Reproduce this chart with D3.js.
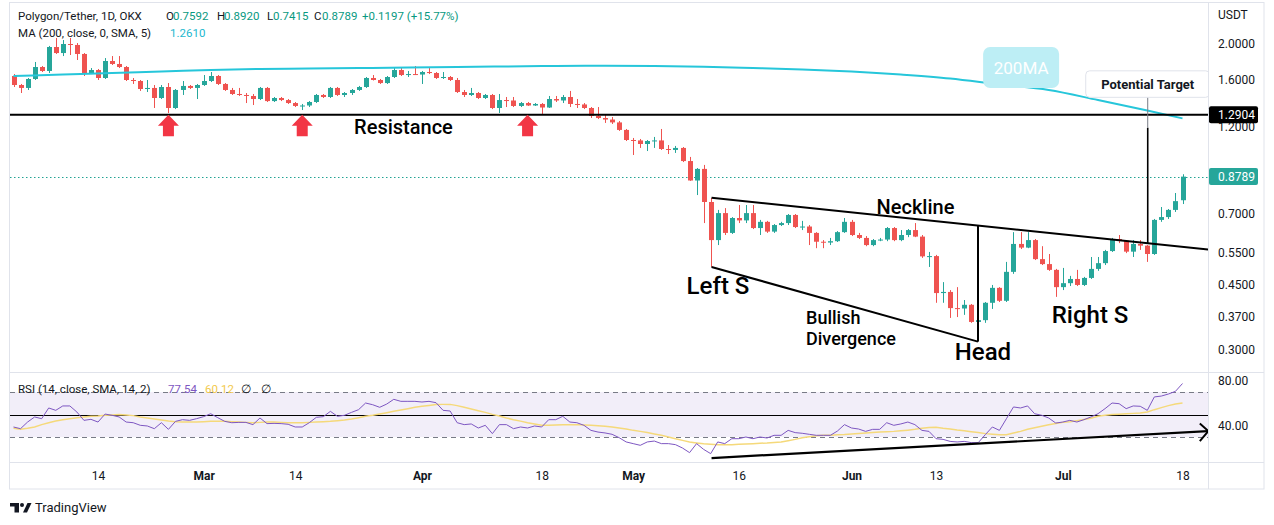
<!DOCTYPE html>
<html><head><meta charset="utf-8">
<script src="https://cdn.jsdelivr.net/npm/d3@7"></script>
<style>
body{margin:0;background:#fff;}
svg{display:block;font-family:Roboto,"Noto Sans",sans-serif;}
</style>
</head><body>
<svg id="c" width="1274" height="525"></svg>
<script>
// ---------------- DATA ----------------
const firstDay = "2022-02-02", lastDay = "2022-07-18";
const opens = [1.640,1.551,1.523,1.610,1.734,1.692,1.963,1.891,2.000,1.988,
1.880,1.671,1.702,1.620,1.800,1.767,1.734,1.600,1.590,1.513,
1.523,1.431,1.532,1.345,1.504,1.542,1.523,1.551,1.590,1.640,
1.561,1.504,1.467,1.458,1.449,1.422,1.523,1.404,1.431,1.413,
1.387,1.362,1.366,1.396,1.458,1.440,1.523,1.458,1.476,1.504,
1.532,1.620,1.600,1.570,1.630,1.702,1.650,1.660,1.655,1.681,
1.671,1.620,1.630,1.600,1.485,1.458,1.476,1.431,1.458,1.345,
1.413,1.409,1.362,1.387,1.366,1.379,1.349,1.422,1.409,1.440,
1.379,1.375,1.345,1.280,1.264,1.252,1.230,1.174,1.103,1.100,
1.076,1.096,1.100,1.043,1.037,1.050,0.968,0.858,0.922,0.751,
0.593,0.701,0.620,0.680,0.670,0.701,0.639,0.664,0.625,0.651,
0.659,0.693,0.643,0.645,0.620,0.587,0.584,0.589,0.623,0.664,
0.612,0.601,0.575,0.593,0.595,0.639,0.593,0.612,0.631,0.606,
0.536,0.537,0.427,0.430,0.389,0.388,0.397,0.357,0.361,0.402,
0.441,0.407,0.487,0.579,0.566,0.593,0.527,0.511,0.493,0.443,
0.454,0.466,0.449,0.469,0.496,0.514,0.554,0.597,0.591,0.552,
0.579,0.573,0.544,0.672,0.684,0.715,0.7592];
const highs = [1.660,1.561,1.620,1.789,1.745,1.976,2.076,2.050,2.076,2.012,
1.891,1.723,1.713,1.833,1.856,1.856,1.745,1.620,1.600,1.600,
1.551,1.551,1.570,1.513,1.590,1.551,1.561,1.650,1.681,1.650,
1.570,1.523,1.523,1.476,1.467,1.532,1.532,1.440,1.440,1.422,
1.396,1.379,1.404,1.467,1.467,1.532,1.532,1.485,1.513,1.542,
1.630,1.650,1.610,1.640,1.723,1.734,1.692,1.745,1.692,1.723,
1.681,1.681,1.640,1.620,1.504,1.523,1.485,1.467,1.467,1.467,
1.440,1.440,1.396,1.396,1.387,1.387,1.449,1.449,1.458,1.495,
1.422,1.387,1.353,1.353,1.288,1.272,1.241,1.181,1.117,1.110,
1.103,1.124,1.181,1.069,1.063,1.056,0.993,0.927,0.945,0.770,
0.715,0.723,0.684,0.737,0.737,0.737,0.672,0.668,0.655,0.664,
0.697,0.697,0.668,0.651,0.623,0.593,0.601,0.627,0.680,0.672,
0.620,0.608,0.597,0.601,0.643,0.643,0.631,0.635,0.659,0.612,
0.551,0.541,0.457,0.435,0.443,0.409,0.399,0.366,0.404,0.449,
0.443,0.518,0.623,0.623,0.623,0.597,0.571,0.544,0.496,0.499,
0.475,0.493,0.472,0.534,0.534,0.558,0.601,0.612,0.593,0.593,
0.593,0.575,0.676,0.728,0.719,0.794,0.8920];
const lows = [1.532,1.476,1.504,1.600,1.681,1.671,1.880,1.856,1.868,1.811,
1.640,1.660,1.600,1.610,1.756,1.723,1.590,1.561,1.495,1.485,
1.345,1.422,1.304,1.336,1.458,1.513,1.422,1.542,1.580,1.551,
1.495,1.458,1.449,1.387,1.370,1.413,1.396,1.396,1.404,1.379,
1.353,1.328,1.353,1.387,1.431,1.431,1.449,1.440,1.458,1.495,
1.523,1.595,1.561,1.561,1.620,1.640,1.630,1.650,1.561,1.660,
1.610,1.610,1.590,1.476,1.440,1.449,1.422,1.422,1.336,1.304,
1.353,1.353,1.353,1.362,1.362,1.296,1.345,1.396,1.387,1.353,
1.345,1.336,1.264,1.256,1.226,1.218,1.167,1.096,1.005,1.050,
1.030,1.050,1.037,1.011,1.018,0.962,0.856,0.784,0.659,0.502,
0.575,0.612,0.616,0.659,0.659,0.635,0.612,0.620,0.620,0.647,
0.651,0.639,0.631,0.575,0.564,0.564,0.575,0.586,0.620,0.608,
0.597,0.571,0.571,0.589,0.589,0.589,0.589,0.604,0.604,0.531,
0.502,0.402,0.402,0.366,0.368,0.373,0.355,0.327,0.355,0.387,
0.404,0.404,0.481,0.561,0.564,0.524,0.508,0.490,0.417,0.435,
0.446,0.446,0.446,0.466,0.490,0.508,0.551,0.582,0.547,0.534,
0.558,0.518,0.541,0.664,0.676,0.706,0.7415];
const closes = [1.551,1.523,1.610,1.734,1.692,1.963,1.891,2.000,1.988,1.880,
1.671,1.702,1.620,1.800,1.767,1.734,1.600,1.590,1.513,1.523,
1.431,1.532,1.345,1.504,1.542,1.523,1.551,1.590,1.640,1.561,
1.504,1.467,1.458,1.449,1.422,1.523,1.404,1.431,1.413,1.387,
1.362,1.366,1.396,1.458,1.440,1.523,1.458,1.476,1.504,1.532,
1.620,1.600,1.570,1.630,1.702,1.650,1.660,1.655,1.681,1.671,
1.620,1.630,1.600,1.485,1.458,1.476,1.431,1.458,1.345,1.413,
1.409,1.362,1.387,1.366,1.379,1.349,1.422,1.409,1.440,1.379,
1.375,1.345,1.280,1.264,1.252,1.230,1.174,1.103,1.100,1.076,
1.096,1.100,1.043,1.037,1.050,0.968,0.858,0.922,0.751,0.593,
0.701,0.620,0.680,0.670,0.701,0.639,0.664,0.625,0.651,0.659,
0.693,0.643,0.645,0.620,0.587,0.584,0.589,0.623,0.664,0.612,
0.601,0.575,0.593,0.595,0.639,0.593,0.612,0.631,0.606,0.536,
0.537,0.427,0.430,0.389,0.388,0.397,0.357,0.361,0.402,0.441,
0.407,0.487,0.579,0.566,0.593,0.527,0.511,0.493,0.443,0.454,
0.466,0.449,0.469,0.496,0.514,0.554,0.597,0.591,0.552,0.579,
0.573,0.544,0.672,0.684,0.715,0.755,0.8789];
const rsiValues = [38.9,37.4,43.3,47.8,46.3,55.8,53.7,57.6,57.6,52.2,
44.8,45.7,43.3,50.4,49.3,47.8,43.3,42.7,40.4,39.8,
37.4,42.7,36.8,43.9,45.4,44.8,46.3,48.1,50.7,47.2,
43.9,42.7,43.0,43.0,41.0,46.9,41.9,42.1,41.9,41.3,
38.9,38.9,42.7,47.5,48.1,52.8,48.4,49.3,51.9,54.3,
60.2,58.7,56.4,59.3,63.5,61.7,61.7,61.7,61.1,61.7,
60.5,53.7,53.1,42.7,41.0,41.6,38.0,40.4,33.0,41.0,
41.0,37.4,38.9,38.0,39.8,38.9,45.4,45.4,48.4,43.3,
42.7,40.4,35.9,34.4,33.6,32.4,29.4,25.6,24.1,22.6,
25.6,26.4,24.1,24.1,23.2,20.2,16.1,24.1,19.0,15.2,
25.6,24.1,28.5,28.5,30.0,28.5,30.0,29.1,31.5,31.5,
35.9,33.9,33.3,32.4,31.5,31.5,31.5,35.3,41.0,38.0,
37.1,35.0,36.8,36.8,42.7,40.4,41.6,43.3,41.0,35.9,
35.0,28.5,27.9,26.1,25.6,26.1,25.0,25.0,32.1,38.9,
35.9,46.3,56.7,55.8,57.6,50.7,49.3,46.9,42.4,43.3,
44.8,43.3,45.4,47.8,50.7,55.2,60.2,59.6,55.2,57.6,
57.3,53.7,65.6,66.4,68.2,70.6,77.54];
const rsiMaValues = [37.7,36.8,37.7,38.9,41.0,42.7,44.2,45.4,46.3,47.2,
47.8,48.4,48.7,49.3,49.6,49.9,49.6,49.0,47.8,46.9,
46.0,45.1,44.2,43.6,43.3,43.3,43.3,43.6,43.9,43.9,
43.9,43.6,43.3,43.0,42.7,43.0,43.3,43.3,43.0,42.7,
42.7,42.7,43.0,43.3,43.6,43.9,44.5,45.1,46.0,47.2,
48.4,49.3,50.4,51.6,52.8,54.0,55.2,56.4,57.3,58.1,
58.9,59.0,59.0,57.9,56.4,54.9,53.4,51.9,50.1,48.7,
46.9,45.4,44.1,42.7,41.6,40.4,40.4,40.6,40.8,41.0,
41.0,40.7,40.4,40.1,39.5,38.9,38.0,37.1,35.9,35.0,
33.9,32.7,31.5,30.0,28.5,27.0,25.6,24.7,23.9,23.5,
23.2,23.2,23.2,23.5,23.8,24.1,24.4,24.7,25.2,25.6,
26.7,27.9,29.4,30.3,31.2,31.5,31.6,31.9,32.2,32.7,
33.1,33.6,34.0,34.4,34.7,35.0,35.5,36.1,36.8,37.7,
38.5,38.7,37.7,37.1,36.2,35.5,34.7,33.9,33.0,32.5,
32.1,32.1,33.6,35.0,36.8,38.3,39.5,40.8,42.0,43.0,
43.5,44.5,45.6,46.6,48.4,49.3,49.9,50.3,50.7,51.0,
51.3,52.2,54.3,56.1,57.9,59.3,60.12];
const maDates = ["2022-02-02","2022-02-09","2022-02-16","2022-02-23","2022-03-02","2022-03-09","2022-03-16","2022-03-23","2022-03-30","2022-04-06","2022-04-13","2022-04-20","2022-04-27","2022-05-04","2022-05-11","2022-05-18","2022-05-25","2022-06-01","2022-06-08","2022-06-15","2022-06-22","2022-06-29","2022-07-06","2022-07-13","2022-07-18"];
const maValues = [1.640,1.655,1.671,1.686,1.702,1.713,1.718,1.723,1.729,1.734,1.740,1.745,1.747,1.745,1.737,1.723,1.708,1.686,1.655,1.615,1.556,1.504,1.413,1.324,1.261];

const priceTicks = [2.0,1.6,1.2,0.7,0.55,0.45,0.37,0.3];
const rsiTicks = [80,40];
const timeTickDates = ["2022-02-14","2022-03-01","2022-03-14","2022-04-01","2022-04-18","2022-05-01","2022-05-16","2022-06-01","2022-06-13","2022-07-01","2022-07-18"];
const timeTickLabels = ["14","Mar","14","Apr","18","May","16","Jun","13","Jul","18"];

const resistanceLevel = 1.2904;
const lastPrice = 0.8789;
const necklinePts = [["2022-05-12T03:00Z",0.771],["2022-07-21T16:00Z",0.559]];
const divergencePts = [["2022-05-12T03:00Z",0.502],["2022-06-18T23:00Z",0.316]];
const headLinePts = [["2022-06-18T23:00Z",0.648],["2022-06-18T23:00Z",0.316]];
const targetLinePts = [["2022-07-13T01:30Z",0.581],["2022-07-13T01:30Z",1.19]];
const targetPointerPts = [["2022-07-13T01:30Z",1.19],["2022-07-13T01:30Z",1.437]];
const rsiDivPts = [["2022-05-12T03:00Z",11.3],["2022-07-21T16:00Z",35.3]];
const arrowDates = ["2022-02-24","2022-03-15","2022-04-16"];
const noteTexts = ["Resistance","Neckline","Left S","Head","Right S"];
const noteDates = ["2022-03-29T09:00Z","2022-06-10T02:00Z","2022-05-13T01:00Z","2022-06-19T16:00Z","2022-07-04T21:00Z"];
const notePrices = [1.145,0.697,0.4245,0.282,0.3546];
const divNote = {lines:["Bullish","Divergence"], date:"2022-05-25T13:00Z", price:0.3525};
const maLabel = {text:"200MA", date:"2022-06-25T02:00Z", price:1.723};
const targetLabel = "Potential Target";
const headerTitle = "Polygon/Tether, 1D, OKX";
const ohlcLabels = ["O","H","L","C"];
const ohlcValues = ["0.7592","0.8920","0.7415","0.8789"];
const changeText = "+0.1197 (+15.77%)";
const maLegend = "MA (200, close, 0, SMA, 5)", maLegendValue = "1.2610";
const rsiLegend = "RSI (14, close, SMA, 14, 2)", rsiLegendValues = ["77.54","60.12"];

// ---------------- DRAW ----------------
const pd = s => new Date(s.length === 10 ? s + "T00:00:00Z" : s);
const dates = d3.utcDay.range(pd(firstDay), d3.utcDay.offset(pd(lastDay), 1));
const candles = dates.map((d,i)=>({d,o:opens[i],h:highs[i],l:lows[i],c:closes[i]}));

const W=1274,H=525, PL=10, PR=1208, PT=3, PB=372, RT=373, RB=462, FB=489, FR=1264;
const UP="#26a69a", DN="#ef5350", INK="#131722", GRID="#e0e3eb";
const x = d3.scaleUtc().domain([pd(firstDay), pd(lastDay)]).range([13.5, 1182.5]);
const y = d3.scaleLog().domain([0.3, 2]).range([350, 44]);
const yr = d3.scaleLinear().domain([30, 70]).range([437, 392]);

const svg = d3.select("#c");
svg.append("rect").attr("width",W).attr("height",H).attr("fill","#fff");
const defs = svg.append("defs");
defs.append("clipPath").attr("id","cp").append("rect").attr("x",PL).attr("y",PT).attr("width",PR-PL).attr("height",PB-PT);
defs.append("clipPath").attr("id","cr").append("rect").attr("x",PL).attr("y",RT).attr("width",PR-PL).attr("height",RB-RT);

// frame
const fr = svg.append("g").attr("stroke",GRID).attr("fill","none").attr("stroke-width",1);
fr.append("rect").attr("x",9.5).attr("y",2.5).attr("width",FR-9.5).attr("height",FB-2.5);
fr.append("line").attr("x1",9.5).attr("x2",FR).attr("y1",PB+0.5).attr("y2",PB+0.5);
fr.append("line").attr("x1",9.5).attr("x2",FR).attr("y1",RB+0.5).attr("y2",RB+0.5);
fr.append("line").attr("x1",PR+0.5).attr("x2",PR+0.5).attr("y1",2.5).attr("y2",FB);

// ---- price pane
const gp = svg.append("g").attr("clip-path","url(#cp)");
gp.append("line").attr("x1",PL).attr("x2",PR).attr("y1",Math.round(y(lastPrice))+0.5).attr("y2",Math.round(y(lastPrice))+0.5)
  .attr("stroke","#22a393").attr("stroke-dasharray","1.5,2.5").attr("stroke-width",1.2);
const cx = d => Math.round(x(d.d));
gp.selectAll("line.wick").data(candles).join("line").attr("class","wick")
  .attr("x1",d=>cx(d)+0.5).attr("x2",d=>cx(d)+0.5).attr("y1",d=>y(d.h)).attr("y2",d=>y(d.l))
  .attr("stroke",d=>d.c>=d.o?UP:DN).attr("stroke-width",1);
gp.selectAll("rect.body").data(candles).join("rect").attr("class","body")
  .attr("x",d=>cx(d)-2).attr("width",5)
  .attr("y",d=>y(Math.max(d.o,d.c))).attr("height",d=>Math.max(1,Math.abs(y(d.o)-y(d.c))))
  .attr("fill",d=>d.c>=d.o?UP:DN);
gp.append("path").datum(maDates.map((d,i)=>[pd(d),maValues[i]]))
  .attr("d",d3.line().x(d=>x(d[0])).y(d=>y(d[1])).curve(d3.curveMonotoneX))
  .attr("fill","none").attr("stroke","#26c6da").attr("stroke-width",2);
gp.append("line").attr("x1",PL).attr("x2",PR).attr("y1",y(resistanceLevel)).attr("y2",y(resistanceLevel))
  .attr("stroke","#000").attr("stroke-width",2);
const seg = (pts, ys) => d3.line().x(p=>x(pd(p[0]))).y(p=>ys(p[1]))(pts);
[necklinePts, divergencePts, headLinePts].forEach(p=>{
  gp.append("path").attr("d",seg(p,y)).attr("stroke","#000").attr("stroke-width",2).attr("fill","none");
});
gp.append("path").attr("d",seg(targetLinePts,y)).attr("stroke","#000").attr("stroke-width",1.6).attr("fill","none");
gp.append("path").attr("d",seg(targetPointerPts,y)).attr("stroke","#787b86").attr("stroke-width",1).attr("fill","none");
arrowDates.forEach(dt=>{
  const ax = x(pd(dt)), ay = y(resistanceLevel);
  gp.append("path").attr("transform",`translate(${ax},${ay})`)
    .attr("d","M0,0 L10.5,11 L5.5,11 L5.5,21.5 L-5.5,21.5 L-5.5,11 L-10.5,11 Z").attr("fill","#f23645");
});
const noteSize = [20,20,24,24,24];
noteTexts.forEach((t,i)=>{
  gp.append("text").attr("x",x(pd(noteDates[i]))).attr("y",y(notePrices[i]))
    .attr("text-anchor","middle").attr("font-size",noteSize[i]).attr("font-weight",500)
    .attr("fill","#000").text(t);
});
{
  const t = gp.append("text").attr("x",x(pd(divNote.date))).attr("y",y(divNote.price))
    .attr("font-size",18).attr("font-weight",500).attr("fill","#000");
  divNote.lines.forEach((l,i)=>t.append("tspan").attr("x",x(pd(divNote.date))).attr("dy",i?21.5:0).text(l));
}
{
  const mx = x(pd(maLabel.date)), my = y(maLabel.price);
  gp.append("rect").attr("x",mx-38).attr("y",my-21).attr("width",76).attr("height",41).attr("rx",7)
    .attr("fill","#bdeef5");
  gp.append("text").attr("x",mx).attr("y",my+6).attr("text-anchor","middle").attr("font-size",17)
    .attr("fill","#fff").text(maLabel.text);
}
{
  const tx = x(pd(targetPointerPts[1][0])), ty = y(targetPointerPts[1][1]);
  gp.append("rect").attr("x",tx-62).attr("y",ty-26.5).attr("width",124).attr("height",26.5).attr("rx",4)
    .attr("fill","#fff").attr("stroke","#e0e3eb");
  gp.append("text").attr("x",tx).attr("y",ty-8.5).attr("text-anchor","middle").attr("font-size",13)
    .attr("font-weight",700).attr("fill",INK).text(targetLabel);
}

// ---- price axis
const yAxis = d3.axisRight(y).tickValues(priceTicks).tickFormat(d3.format(".4f")).tickSize(0).tickPadding(10);
const ga = svg.append("g").attr("transform",`translate(${PR},0)`).call(yAxis);
ga.select(".domain").remove();
ga.selectAll("text").attr("font-size",12).attr("fill",INK).attr("font-family","Roboto");
svg.append("text").attr("x",PR+10).attr("y",19).attr("font-size",12).attr("fill",INK).text("USDT");
function axisBox(v, fill){
  const yy = y(v);
  svg.append("rect").attr("x",PR+1).attr("y",yy-8.5).attr("width",49).attr("height",17).attr("rx",2).attr("fill",fill);
  svg.append("text").attr("x",PR+10).attr("y",yy+4.3).attr("font-size",12).attr("fill","#fff").text(v.toFixed(4));
}
axisBox(resistanceLevel, "#000");
axisBox(lastPrice, UP);

// ---- RSI pane
const gr = svg.append("g").attr("clip-path","url(#cr)");
gr.append("rect").attr("x",PL).attr("width",PR-PL).attr("y",yr(70)).attr("height",yr(30)-yr(70)).attr("fill","rgba(126,87,194,0.1)");
[70,30].forEach(v=>gr.append("line").attr("x1",PL).attr("x2",PR).attr("y1",Math.round(yr(v))+0.5).attr("y2",Math.round(yr(v))+0.5)
  .attr("stroke","#787b86").attr("stroke-dasharray","5,4"));
gr.append("line").attr("x1",PL).attr("x2",PR).attr("y1",Math.round(yr(50))+0.5).attr("y2",Math.round(yr(50))+0.5).attr("stroke","#000");
gr.append("path").datum(rsiMaValues).attr("d",d3.line().x((d,i)=>x(dates[i])).y(d=>yr(d)))
  .attr("fill","none").attr("stroke","#f5d97a").attr("stroke-width",1.5);
gr.append("path").datum(rsiValues).attr("d",d3.line().x((d,i)=>x(dates[i])).y(d=>yr(d)))
  .attr("fill","none").attr("stroke","#7e57c2").attr("stroke-width",1);
gr.append("path").attr("d",seg(rsiDivPts,yr)).attr("stroke","#000").attr("stroke-width",2.2).attr("fill","none");
{
  const ex = x(pd(rsiDivPts[1][0])), ey = yr(rsiDivPts[1][1]);
  gr.append("path").attr("d",`M${ex-8.5},${ey-7.5} L${ex},${ey} L${ex-8.5},${ey+10}`).attr("stroke","#000").attr("stroke-width",2).attr("fill","none");
}
const rAxis = d3.axisRight(yr).tickValues(rsiTicks).tickFormat(d3.format(".2f")).tickSize(0).tickPadding(10);
const gra = svg.append("g").attr("transform",`translate(${PR},0)`).call(rAxis);
gra.select(".domain").remove();
gra.selectAll("text").attr("font-size",12).attr("fill",INK).attr("font-family","Roboto");
{
  const lg = svg.append("text").attr("x",18).attr("y",393).attr("font-size",11.5).attr("fill",INK);
  lg.append("tspan").text(rsiLegend);
  lg.append("tspan").attr("x",168).attr("fill","#7e57c2").text(rsiLegendValues[0]);
  lg.append("tspan").attr("x",205).attr("fill","#f2c94c").text(rsiLegendValues[1]);
  lg.append("tspan").attr("x",241).text("∅");
  lg.append("tspan").attr("x",261).text("∅");
}

// ---- time axis
const xAxis = d3.axisBottom(x).tickValues(timeTickDates.map(pd)).tickFormat((d,i)=>timeTickLabels[i]).tickSize(0).tickPadding(9);
const gx = svg.append("g").attr("transform",`translate(0,${RB})`).call(xAxis);
gx.select(".domain").remove();
gx.selectAll("text").attr("font-size",12).attr("fill",INK).attr("font-family","Roboto")
  .attr("font-weight",(d,i)=>isNaN(+timeTickLabels[i])?700:400);

// ---- header
{
  const h1 = svg.append("text").attr("x",18).attr("y",20).attr("font-size",11.5).attr("fill",INK);
  h1.append("tspan").text(headerTitle);
  const lx=[166,217,267,314], vx=[173,224,273,322];
  ohlcLabels.forEach((l,i)=>{
    h1.append("tspan").attr("x",lx[i]).text(l);
    h1.append("tspan").attr("x",vx[i]).attr("fill","#089981").text(ohlcValues[i]);
  });
  h1.append("tspan").attr("x",362).attr("fill","#089981").text(changeText);
  const h2 = svg.append("text").attr("x",18).attr("y",37).attr("font-size",11.5).attr("fill",INK);
  h2.append("tspan").text(maLegend);
  h2.append("tspan").attr("x",170).attr("fill","#22b8cf").text(maLegendValue);
}

// ---- TradingView logo
{
  const lg = svg.append("g").attr("fill",INK);
  lg.append("rect").attr("x",10).attr("y",503).attr("width",9).attr("height",3.5);
  lg.append("rect").attr("x",14.5).attr("y",503).attr("width",4.5).attr("height",9.5);
  lg.append("circle").attr("cx",22).attr("cy",505).attr("r",2);
  lg.append("path").attr("d","M23,512.5 L27.5,503 L31.5,503 L27,512.5 Z");
  svg.append("text").attr("x",35).attr("y",512).attr("font-size",13).attr("fill",INK).text("TradingView");
}
</script>
</body></html>
